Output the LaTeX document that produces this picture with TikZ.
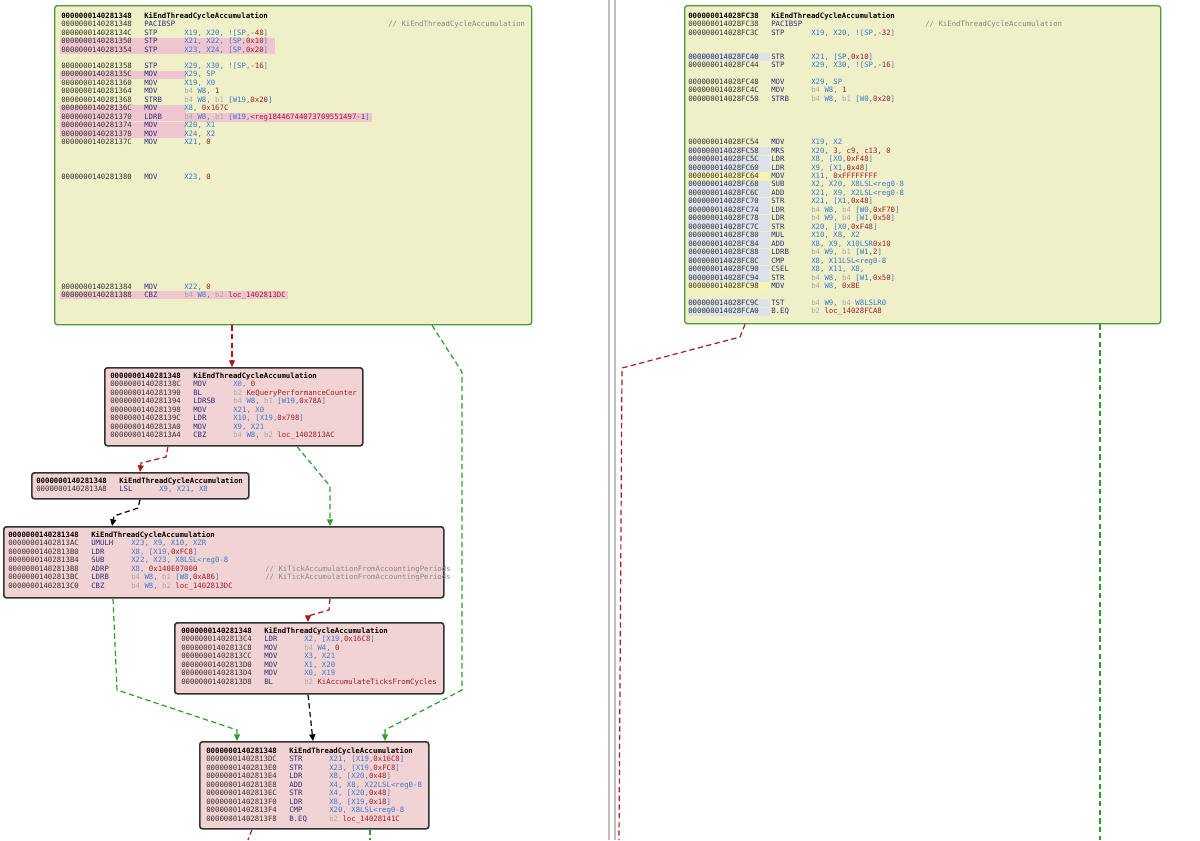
\documentclass[tikz,border=0pt]{standalone}
\usepackage{fontspec}
\newfontfamily\monof{DejaVu Sans Mono}
\usetikzlibrary{arrows.meta,calc}
\definecolor{addrc}{HTML}{333333}
\definecolor{mnc}{HTML}{2E2E7A}
\definecolor{regc}{HTML}{3B78D0}
\definecolor{numc}{HTML}{A01E2A}
\definecolor{gyc}{HTML}{AAAAAA}
\definecolor{cmc}{HTML}{888888}
\definecolor{ybg}{HTML}{EFF0C8}
\definecolor{gbd}{HTML}{4C9A3C}
\definecolor{pbg}{HTML}{F2D3D3}
\definecolor{hlp}{HTML}{EFC6D0}
\definecolor{hlb}{HTML}{DCE2EA}
\definecolor{hly}{HTML}{F6F2B0}
\definecolor{redl}{HTML}{B01818}
\definecolor{grnl}{HTML}{2AA02A}
\newcommand\xr[1]{\textcolor{regc}{#1}}
\newcommand\xn[1]{\textcolor{numc}{#1}}
\newcommand\xg[1]{\textcolor{gyc}{#1}}
\newcommand\xc[1]{\textcolor{cmc}{#1}}
\tikzset{
 tx/.style={anchor=west,inner sep=0pt,text height=4pt,text depth=1pt,font=\monof\fontsize{5.5pt}{6pt}\selectfont,text=addrc},
 ybox/.style={draw=gbd,fill=ybg,line width=1pt,rounded corners=2pt},
 pbox/.style={draw=black!80,fill=pbg,line width=1.2pt,rounded corners=2pt},
 edge/.style={dashed,dash pattern=on 4pt off 2.5pt,line width=0.9pt,-{Triangle[length=5pt,width=4.5pt]}},
 er/.style={edge,draw=redl,color=redl},
 eg/.style={edge,draw=grnl,color=grnl},
 ek/.style={edge,draw=black,color=black},
}
% line: x, y, addr, mnemonic, operands
\newcommand\LN[5]{\node[tx] at (#1,#2) {#3};\node[tx,text=mnc] at ({#1+83},#2) {#4};\node[tx] at ({#1+123},#2) {#5};}
\newcommand\HD[2]{\node[tx,font=\monof\bfseries\fontsize{5.5pt}{6pt}\selectfont,text=black] at (#1,#2) {0000000140281348};\node[tx,font=\monof\bfseries\fontsize{5.5pt}{6pt}\selectfont,text=black] at ({#1+83},#2) {KiEndThreadCycleAccumulation};}
\begin{document}
\begin{tikzpicture}[x=0.75pt,y=-0.75pt]
\useasboundingbox[fill=white] (0,0) rectangle (1200,840);
% separator
\draw[black!25,line width=0.8pt] (609,0) -- (609,840);
\draw[black!25,line width=0.8pt] (615,0) -- (615,840);

% ---------- top-left box
\node[ybox,minimum width=477*0.75pt,minimum height=319*0.75pt,anchor=north west] (T1) at (54,5) {};
\foreach \yy in {41.5,50,74.5,108.5,117,125.5,134,295}{\fill[hlp] (60,\yy-4) rectangle (186,\yy+4);}
\fill[hlp] (186,37.5) rectangle (275,54);
\fill[hlp] (186,113) rectangle (372,121.5);
\fill[hlp] (186,291) rectangle (288,299);
\HD{61}{16}
\LN{61}{24.5}{0000000140281348}{PACIBSP}{}
\node[tx,text=cmc] at (388,24.5) {// KiEndThreadCycleAccumulation};
\LN{61}{33}{000000014028134C}{STP}{\xr{X19, X20, ![SP,}\xn{-48}\xr{]}}
\LN{61}{41.5}{0000000140281350}{STP}{\xr{X21, X22, [SP,}\xn{0x10}\xr{]}}
\LN{61}{50}{0000000140281354}{STP}{\xr{X23, X24, [SP,}\xn{0x20}\xr{]}}
\LN{61}{66}{0000000140281358}{STP}{\xr{X29, X30, ![SP,}\xn{-16}\xr{]}}
\LN{61}{74.5}{000000014028135C}{MOV}{\xr{X29, SP}}
\LN{61}{83}{0000000140281360}{MOV}{\xr{X19, X0}}
\LN{61}{91.5}{0000000140281364}{MOV}{\xg{b4} \xr{W8,} \xn{1}}
\LN{61}{100}{0000000140281368}{STRB}{\xg{b4} \xr{W8,} \xg{b1} \xr{[W19,}\xn{0x20}\xr{]}}
\LN{61}{108.5}{000000014028136C}{MOV}{\xr{X8,} \xn{0x167C}}
\LN{61}{117}{0000000140281370}{LDRB}{\xg{b4} \xr{W8,} \xg{b1} \xr{[W19,}\xn{<reg18446744073709551497-1}\xr{]}}
\LN{61}{125.5}{0000000140281374}{MOV}{\xr{X20, X1}}
\LN{61}{134}{0000000140281378}{MOV}{\xr{X24, X2}}
\LN{61}{142.5}{000000014028137C}{MOV}{\xr{X21,} \xn{0}}
\LN{61}{177}{0000000140281380}{MOV}{\xr{X23,} \xn{0}}
\LN{61}{287}{0000000140281384}{MOV}{\xr{X22,} \xn{0}}
\LN{61}{295}{0000000140281388}{CBZ}{\xg{b4} \xr{W8,} \xg{b2} \xn{loc\_1402813DC}}

% ---------- top-right box
\node[ybox,minimum width=476*0.75pt,minimum height=318*0.75pt,anchor=north west] (T2) at (684,5) {};
\foreach \yy in {57,151,159.5,168,184.5,193,201.5,210,218.5,227,235.5,244,252.5,261,269.5,278,303,312}{\fill[hlb] (688,\yy-4) rectangle (770,\yy+4);}
\foreach \yy in {176,286.5}{\fill[hly] (688,\yy-4) rectangle (770,\yy+4);}
\node[tx,font=\monof\bfseries\fontsize{5.5pt}{6pt}\selectfont,text=black] at (688,16) {000000014028FC38};
\node[tx,font=\monof\bfseries\fontsize{5.5pt}{6pt}\selectfont,text=black] at (771,16) {KiEndThreadCycleAccumulation};
\LN{688}{24.5}{000000014028FC38}{PACIBSP}{}
\node[tx,text=cmc] at (925,24.5) {// KiEndThreadCycleAccumulation};
\LN{688}{33}{000000014028FC3C}{STP}{\xr{X19, X20, ![SP,}\xn{-32}\xr{]}}
\LN{688}{57}{000000014028FC40}{STR}{\xr{X21, [SP,}\xn{0x10}\xr{]}}
\LN{688}{65.5}{000000014028FC44}{STP}{\xr{X29, X30, ![SP,}\xn{-16}\xr{]}}
\LN{688}{82}{000000014028FC48}{MOV}{\xr{X29, SP}}
\LN{688}{90.5}{000000014028FC4C}{MOV}{\xg{b4} \xr{W8,} \xn{1}}
\LN{688}{99}{000000014028FC50}{STRB}{\xg{b4} \xr{W8,} \xg{b1} \xr{[W0,}\xn{0x20}\xr{]}}
\LN{688}{142.5}{000000014028FC54}{MOV}{\xr{X19, X2}}
\LN{688}{151}{000000014028FC58}{MRS}{\xr{X20,} \xn{3, c9, c13, 0}}
\LN{688}{159.5}{000000014028FC5C}{LDR}{\xr{X8, [X0,}\xn{0xF48}\xr{]}}
\LN{688}{168}{000000014028FC60}{LDR}{\xr{X9, [X1,}\xn{0x48}\xr{]}}
\LN{688}{176}{000000014028FC64}{MOV}{\xr{X11,} \xn{0xFFFFFFFF}}
\LN{688}{184.5}{000000014028FC68}{SUB}{\xr{X2, X20, X8LSL<reg0-8}}
\LN{688}{193}{000000014028FC6C}{ADD}{\xr{X21, X9, X2LSL<reg0-8}}
\LN{688}{201.5}{000000014028FC70}{STR}{\xr{X21, [X1,}\xn{0x48}\xr{]}}
\LN{688}{210}{000000014028FC74}{LDR}{\xg{b4} \xr{W8,} \xg{b4} \xr{[W0,}\xn{0xF70}\xr{]}}
\LN{688}{218.5}{000000014028FC78}{LDR}{\xg{b4} \xr{W9,} \xg{b4} \xr{[W1,}\xn{0x50}\xr{]}}
\LN{688}{227}{000000014028FC7C}{STR}{\xr{X20, [X0,}\xn{0xF48}\xr{]}}
\LN{688}{235.5}{000000014028FC80}{MUL}{\xr{X10, X8, X2}}
\LN{688}{244}{000000014028FC84}{ADD}{\xr{X8, X9, X10LSR}\xn{0x10}}
\LN{688}{252.5}{000000014028FC88}{LDRB}{\xg{b4} \xr{W9,} \xg{b1} \xr{[W1,}\xn{2}\xr{]}}
\LN{688}{261}{000000014028FC8C}{CMP}{\xr{X8, X11LSL<reg0-8}}
\LN{688}{269.5}{000000014028FC90}{CSEL}{\xr{X8, X11, X8,}}
\LN{688}{278}{000000014028FC94}{STR}{\xg{b4} \xr{W8,} \xg{b4} \xr{[W1,}\xn{0x50}\xr{]}}
\LN{688}{286.5}{000000014028FC98}{MOV}{\xg{b4} \xr{W8,} \xn{0xBE}}
\LN{688}{303}{000000014028FC9C}{TST}{\xg{b4} \xr{W9,} \xg{b4} \xr{W8LSLR0}}
\LN{688}{311.5}{000000014028FCA0}{B.EQ}{\xg{b2} \xn{loc\_14028FCA8}}

% ---------- box A
\node[pbox,minimum width=258*0.75pt,minimum height=78*0.75pt,anchor=north west] (A) at (104,367) {};
\HD{110}{376}
\LN{110}{384.5}{000000014028138C}{MOV}{\xr{X0,} \xn{0}}
\LN{110}{393}{0000000140281390}{BL}{\xg{b2} \xn{KeQueryPerformanceCounter}}
\LN{110}{401.5}{0000000140281394}{LDRSB}{\xg{b4} \xr{W8,} \xg{b1} \xr{[W19,}\xn{0x78A}\xr{]}}
\LN{110}{410}{0000000140281398}{MOV}{\xr{X21, X0}}
\LN{110}{418.5}{000000014028139C}{LDR}{\xr{X10, [X19,}\xn{0x798}\xr{]}}
\LN{110}{427}{00000001402813A0}{MOV}{\xr{X9, X21}}
\LN{110}{435.5}{00000001402813A4}{CBZ}{\xg{b4} \xr{W8,} \xg{b2} \xn{loc\_1402813AC}}

% ---------- box B
\node[pbox,minimum width=217*0.75pt,minimum height=26*0.75pt,anchor=north west] (B) at (31,472) {};
\HD{36}{481}
\LN{36}{489.5}{00000001402813A8}{LSL}{\xr{X9, X21, X8}}

% ---------- box C
\node[pbox,minimum width=440*0.75pt,minimum height=71*0.75pt,anchor=north west] (C) at (3,526) {};
\HD{8}{535}
\LN{8}{543.5}{00000001402813AC}{UMULH}{\xr{X23, X9, X10, XZR}}
\LN{8}{552}{00000001402813B0}{LDR}{\xr{X8, [X19,}\xn{0xFC8}\xr{]}}
\LN{8}{560.5}{00000001402813B4}{SUB}{\xr{X22, X23, X8LSL<reg0-8}}
\LN{8}{569}{00000001402813B8}{ADRP}{\xr{X8,} \xn{0x140E07000}}
\LN{8}{577.5}{00000001402813BC}{LDRB}{\xg{b4} \xr{W8,} \xg{b1} \xr{[W8,}\xn{0xA86}\xr{]}}
\LN{8}{586}{00000001402813C0}{CBZ}{\xg{b4} \xr{W8,} \xg{b2} \xn{loc\_1402813DC}}
\node[tx,text=cmc] at (265,569) {// KiTickAccumulationFromAccountingPeriods};
\node[tx,text=cmc] at (265,577.5) {// KiTickAccumulationFromAccountingPeriods};

% ---------- box D
\node[pbox,minimum width=269*0.75pt,minimum height=71*0.75pt,anchor=north west] (D) at (174,622) {};
\HD{181}{631}
\LN{181}{639.5}{00000001402813C4}{LDR}{\xr{X2, [X19,}\xn{0x16C8}\xr{]}}
\LN{181}{648}{00000001402813C8}{MOV}{\xg{b4} \xr{W4,} \xn{0}}
\LN{181}{656.5}{00000001402813CC}{MOV}{\xr{X3, X21}}
\LN{181}{665}{00000001402813D0}{MOV}{\xr{X1, X20}}
\LN{181}{673.5}{00000001402813D4}{MOV}{\xr{X0, X19}}
\LN{181}{682}{00000001402813D8}{BL}{\xg{b2} \xn{KiAccumulateTicksFromCycles}}

% ---------- box E
\node[pbox,minimum width=229*0.75pt,minimum height=87*0.75pt,anchor=north west] (E) at (199,741) {};
\HD{206}{751}
\LN{206}{759.5}{00000001402813DC}{STR}{\xr{X21, [X19,}\xn{0x16C8}\xr{]}}
\LN{206}{768}{00000001402813E0}{STR}{\xr{X23, [X19,}\xn{0xFC8}\xr{]}}
\LN{206}{776.5}{00000001402813E4}{LDR}{\xr{X8, [X20,}\xn{0x48}\xr{]}}
\LN{206}{785}{00000001402813E8}{ADD}{\xr{X4, X8, X22LSL<reg0-8}}
\LN{206}{793.5}{00000001402813EC}{STR}{\xr{X4, [X20,}\xn{0x48}\xr{]}}
\LN{206}{802}{00000001402813F0}{LDR}{\xr{X8, [X19,}\xn{0x18}\xr{]}}
\LN{206}{810.5}{00000001402813F4}{CMP}{\xr{X20, X8LSL<reg0-8}}
\LN{206}{819}{00000001402813F8}{B.EQ}{\xg{b2} \xn{loc\_14028141C}}

% ---------- edges
\coordinate (e1) at (248,840); \coordinate (e2) at (370,840);
\coordinate (r1) at (619,840); \coordinate (g1) at (1100,840);
\draw[er] (T1.south west -| 232,0) -- (A.north west -| 232,0);
\draw[eg] (T1.south west -| 432,0) -- (462,372) -- (462,690) -- (385,730) -- (E.north west -| 385,0);
\draw[er] (A.south west -| 168,0) -- (166,457) -- (141,463) -- (B.north west -| 140,0);
\draw[eg] (A.south west -| 297,0) -- (330,486) -- (C.north west -| 330,0);
\draw[ek] (B.south west -| 140,0) -- (138,508) -- (114,516) -- (C.north west -| 112,0);
\draw[er] (C.south west -| 330,0) -- (329,610) -- (308,616) -- (D.north west -| 308,0);
\draw[eg] (C.south west -| 113,0) -- (117,690) -- (237,730) -- (E.north west -| 237,0);
\draw[ek] (D.south west -| 308,0) -- (E.north west -| 313,0);
\draw[er,-] (E.south west -| 252,0) -- (e1);
\draw[eg,-] (E.south west -| 370,0) -- (e2);
\draw[er,-] (T2.south west -| 745,0) -- (740,337) -- (622,368) -- (r1);
\draw[eg,-] (T2.south west -| 1100,0) -- (g1);
\end{tikzpicture}
\end{document}
